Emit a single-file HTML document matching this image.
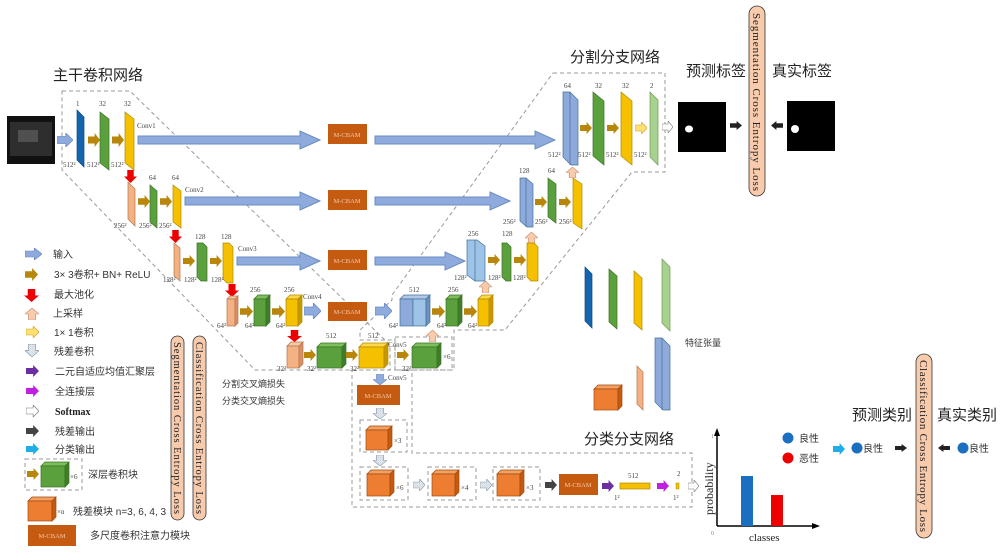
<!DOCTYPE html>
<html><head><meta charset="utf-8"><style>
html,body{margin:0;padding:0;background:#fff;width:1000px;height:553px;overflow:hidden}
svg text{font-family:"Liberation Serif","Noto Serif CJK SC","Noto Sans CJK SC",serif;fill:#222}
.s{font-size:7px;fill:#444}
.cn{font-family:"Liberation Sans","Noto Sans CJK SC",sans-serif;font-size:10px;fill:#333}
.h{font-family:"Liberation Sans","Noto Sans CJK SC",sans-serif;font-size:15px;fill:#222}
.d{fill:none;stroke:#999;stroke-width:1;stroke-dasharray:4,3}
</style></head><body>
<svg width="1000" height="553" viewBox="0 0 1000 553" xmlns="http://www.w3.org/2000/svg">
<defs>
<symbol id="aR" viewBox="0 0 20 20" preserveAspectRatio="none"><polygon points="0,5 11,5 11,0 20,10 11,20 11,15 0,15"/></symbol>
<symbol id="aD" viewBox="0 0 20 20" preserveAspectRatio="none"><polygon points="5,0 15,0 15,10 20,10 10,20 0,10 5,10"/></symbol>
<symbol id="aU" viewBox="0 0 20 20" preserveAspectRatio="none"><polygon points="10,0 20,10 15,10 15,20 5,20 5,10 0,10"/></symbol>
<pattern id="hat" width="3" height="3" patternUnits="userSpaceOnUse"><rect width="3" height="3" fill="#fff"/><path d="M0,3 L3,0" stroke="#9ab" stroke-width="0.8"/></pattern>
</defs>

<!-- dashed regions -->
<polygon class="d" points="62,91 130,91 390,345 390,370 255,370 62,170"/>
<polygon class="d" points="553,73 665,73 665,172 632,172 505,330 454,330 454,370 395,370 395,340 360,340 360,330 392,300 392,295 553,73"/>
<polygon class="d" points="352,370 412,370 412,453 692,453 692,507 352,507"/>
<rect class="d" x="395" y="337" width="57" height="33"/>

<!-- headings -->
<text class="h" x="53" y="80">主干卷积网络</text>
<text class="h" x="570" y="62">分割分支网络</text>
<text class="h" x="686" y="76">预测标签</text>
<text class="h" x="772" y="76">真实标签</text>
<text class="h" x="584" y="444">分类分支网络</text>
<text class="h" x="852" y="420">预测类别</text>
<text class="h" x="937" y="420">真实类别</text>

<!-- input image -->
<rect x="7" y="116" width="48" height="48" fill="#111"/>
<rect x="10" y="122" width="42" height="34" fill="#3a3a3a" opacity="0.7"/>
<rect x="18" y="130" width="20" height="12" fill="#666" opacity="0.6"/>

<!-- ===== Row1 encoder ===== -->
<use href="#aR" x="57" y="133" width="16" height="14" fill="#8faadc" stroke="#6a8cc6"/>
<polygon points="77,110 84,117 84,167 77,160" fill="#1464ae" stroke="#0d4a80" stroke-width="0.7"/>
<use href="#aR" x="88" y="133" width="12" height="14" fill="#b8860b"/>
<polygon points="100,112 109,119 109,170 100,163" fill="#5aa03c" stroke="#3d7028" stroke-width="0.7"/>
<use href="#aR" x="112" y="133" width="12" height="14" fill="#b8860b"/>
<polygon points="125,112 134,119 134,170 125,163" fill="#f5c000" stroke="#b08a00" stroke-width="0.7"/>
<text class="s" x="76" y="106">1</text><text class="s" x="99" y="106">32</text><text class="s" x="124" y="106">32</text>
<text class="s" x="63" y="167">512²</text><text class="s" x="87" y="167">512²</text><text class="s" x="111" y="167">512²</text>
<text class="s" x="137" y="128">Conv1</text>
<polygon points="138,136 300,136 300,131 320,140 300,149 300,144 138,144" fill="#8faadc" stroke="#6a8cc6"/>
<rect x="328" y="124" width="39" height="20" fill="#c55a11"/><text x="347" y="137" font-size="6.5" fill="#f0c0a0" text-anchor="middle" style="fill:#f3c9a8">M-CBAM</text>
<polygon points="375,136 535,136 535,131 555,140 535,149 535,144 375,144" fill="#8faadc" stroke="#6a8cc6"/>

<!-- Row2 -->
<use href="#aD" x="124" y="170" width="13" height="13" fill="#e00"/>
<polygon points="128,182 135,189 135,226 128,219" fill="#f4b183" stroke="#b07850" stroke-width="0.7"/>
<use href="#aR" x="138" y="195" width="12" height="13" fill="#b8860b"/>
<polygon points="150,185 157,191 157,228 150,222" fill="#5aa03c" stroke="#3d7028" stroke-width="0.7"/>
<use href="#aR" x="160" y="195" width="12" height="13" fill="#b8860b"/>
<polygon points="173,185 181,191 181,228 173,222" fill="#f5c000" stroke="#b08a00" stroke-width="0.7"/>
<text class="s" x="149" y="180">64</text><text class="s" x="172" y="180">64</text>
<text class="s" x="114" y="228">256²</text><text class="s" x="139" y="228">256²</text><text class="s" x="159" y="228">256²</text>
<text class="s" x="185" y="192">Conv2</text>
<polygon points="185,197 300,197 300,192 320,201 300,210 300,205 185,205" fill="#8faadc" stroke="#6a8cc6"/>
<rect x="328" y="190" width="39" height="20" fill="#c55a11"/><text x="347" y="203" font-size="6.5" text-anchor="middle" style="fill:#f3c9a8">M-CBAM</text>
<polygon points="375,197 490,197 490,192 510,201 490,210 490,205 375,205" fill="#8faadc" stroke="#6a8cc6"/>

<!-- Row3 -->
<use href="#aD" x="169" y="230" width="13" height="13" fill="#e00"/>
<polygon points="174,243 180,248 180,281 174,276" fill="#f4b183" stroke="#b07850" stroke-width="0.7"/>
<use href="#aR" x="183" y="255" width="12" height="12" fill="#b8860b"/>
<polygon points="197,243 203,243 207,247 207,281 201,281 197,277" fill="#5aa03c" stroke="#3d7028" stroke-width="0.7"/>
<use href="#aR" x="210" y="255" width="12" height="12" fill="#b8860b"/>
<polygon points="223,243 229,243 233,247 233,283 227,283 223,279" fill="#f5c000" stroke="#b08a00" stroke-width="0.7"/>
<text class="s" x="195" y="239">128</text><text class="s" x="221" y="239">128</text>
<text class="s" x="163" y="282">128²</text><text class="s" x="184" y="282">128²</text><text class="s" x="211" y="282">128²</text>
<text class="s" x="238" y="251">Conv3</text>
<polygon points="237,257 300,257 300,252 320,261 300,270 300,265 237,265" fill="#8faadc" stroke="#6a8cc6"/>
<rect x="328" y="250" width="39" height="20" fill="#c55a11"/><text x="347" y="263" font-size="6.5" text-anchor="middle" style="fill:#f3c9a8">M-CBAM</text>
<polygon points="375,257 445,257 445,252 465,261 445,270 445,265 375,265" fill="#8faadc" stroke="#6a8cc6"/>

<!-- Row4 -->
<use href="#aD" x="225" y="284" width="14" height="13" fill="#e00"/>
<g stroke-width="0.7">
<polygon points="227,299 230,296 238,296 235,299" fill="#f8c9a4" stroke="#b07850"/>
<rect x="227" y="299" width="8" height="27" fill="#f4b183" stroke="#b07850"/>
<polygon points="235,299 238,296 238,323 235,326" fill="#d99066" stroke="#b07850"/>
<polygon points="254,299 258,295 270,295 266,299" fill="#7cc05a" stroke="#3d7028"/>
<rect x="254" y="299" width="12" height="27" fill="#5aa03c" stroke="#3d7028"/>
<polygon points="266,299 270,295 270,322 266,326" fill="#3f7d2a" stroke="#3d7028"/>
<polygon points="286,299 290,295 302,295 298,299" fill="#ffd84a" stroke="#b08a00"/>
<rect x="286" y="299" width="12" height="27" fill="#f5c000" stroke="#b08a00"/>
<polygon points="298,299 302,295 302,322 298,326" fill="#c89800" stroke="#b08a00"/>
</g>
<use href="#aR" x="240" y="305" width="13" height="13" fill="#b8860b"/>
<use href="#aR" x="272" y="305" width="13" height="13" fill="#b8860b"/>
<text class="s" x="250" y="292">256</text><text class="s" x="284" y="292">256</text>
<text class="s" x="217" y="328">64²</text><text class="s" x="245" y="328">64²</text><text class="s" x="276" y="328">64²</text>
<text class="s" x="303" y="299">Conv4</text>
<use href="#aR" x="304" y="303" width="17" height="16" fill="#8faadc" stroke="#6a8cc6"/>
<rect x="328" y="302" width="39" height="19" fill="#c55a11"/><text x="347" y="314" font-size="6.5" text-anchor="middle" style="fill:#f3c9a8">M-CBAM</text>
<use href="#aR" x="375" y="303" width="17" height="16" fill="#8faadc" stroke="#6a8cc6"/>
<!-- decoder row4 -->
<g stroke-width="0.7">
<polygon points="400,299 404,295 430,295 426,299" fill="#b4c7e7" stroke="#41719c"/>
<rect x="400" y="299" width="13" height="27" fill="#8eaadb" stroke="#41719c"/>
<rect x="413" y="299" width="13" height="27" fill="#9dc3e6" stroke="#41719c"/>
<polygon points="426,299 430,295 430,322 426,326" fill="#6f8fc0" stroke="#41719c"/>
<polygon points="446,299 450,295 462,295 458,299" fill="#7cc05a" stroke="#3d7028"/>
<rect x="446" y="299" width="12" height="27" fill="#5aa03c" stroke="#3d7028"/>
<polygon points="458,299 462,295 462,322 458,326" fill="#3f7d2a" stroke="#3d7028"/>
<polygon points="478,299 482,295 493,295 489,299" fill="#ffd84a" stroke="#b08a00"/>
<rect x="478" y="299" width="11" height="27" fill="#f5c000" stroke="#b08a00"/>
<polygon points="489,299 493,295 493,322 489,326" fill="#c89800" stroke="#b08a00"/>
</g>
<use href="#aR" x="432" y="305" width="13" height="13" fill="#b8860b"/>
<use href="#aR" x="464" y="305" width="13" height="13" fill="#b8860b"/>
<text class="s" x="409" y="292">512</text><text class="s" x="448" y="292">256</text>
<text class="s" x="389" y="328">64²</text><text class="s" x="437" y="328">64²</text><text class="s" x="468" y="328">64²</text>

<!-- Row5 -->
<use href="#aD" x="287" y="330" width="15" height="12" fill="#e00"/>
<g stroke-width="0.7">
<polygon points="287,346 291,342 303,342 299,346" fill="#f8c9a4" stroke="#b07850"/>
<rect x="287" y="346" width="12" height="22" fill="#f4b183" stroke="#b07850"/>
<polygon points="299,346 303,342 303,364 299,368" fill="#d99066" stroke="#b07850"/>
<polygon points="317,347 321,343 346,343 342,347" fill="#7cc05a" stroke="#3d7028"/>
<rect x="317" y="347" width="25" height="21" fill="#5aa03c" stroke="#3d7028"/>
<polygon points="342,347 346,343 346,364 342,368" fill="#3f7d2a" stroke="#3d7028"/>
<polygon points="359,347 363,343 388,343 384,347" fill="#ffd84a" stroke="#b08a00"/>
<rect x="359" y="347" width="25" height="21" fill="#f5c000" stroke="#b08a00"/>
<polygon points="384,347 388,343 388,364 384,368" fill="#c89800" stroke="#b08a00"/>
<polygon points="412,347 416,343 441,343 437,347" fill="#7cc05a" stroke="#3d7028"/>
<rect x="412" y="347" width="25" height="21" fill="#5aa03c" stroke="#3d7028"/>
<polygon points="437,347 441,343 441,364 437,368" fill="#3f7d2a" stroke="#3d7028"/>
</g>
<use href="#aR" x="304" y="349" width="12" height="12" fill="#b8860b"/>
<use href="#aR" x="346" y="349" width="12" height="12" fill="#b8860b"/>
<use href="#aR" x="397" y="349" width="12" height="12" fill="#b8860b"/>
<text class="s" x="326" y="338">512</text><text class="s" x="368" y="338">512</text>
<text class="s" x="277" y="371">32²</text><text class="s" x="307" y="371">32²</text><text class="s" x="350" y="371">32²</text><text class="s" x="402" y="371">32²</text>
<text class="s" x="388" y="347">Conv5</text><text class="s" x="443" y="359">×6</text>

<!-- up arrows -->
<use href="#aU" x="426" y="330" width="13" height="12" fill="#f8cbad" stroke="#c99070" stroke-width="1"/>
<use href="#aU" x="479" y="281" width="13" height="12" fill="#f8cbad" stroke="#c99070" stroke-width="1"/>
<use href="#aU" x="525" y="232" width="13" height="12" fill="#f8cbad" stroke="#c99070" stroke-width="1"/>
<use href="#aU" x="566" y="167" width="13" height="11" fill="#f8cbad" stroke="#c99070" stroke-width="1"/>

<!-- decoder row3 -->
<polygon points="467,240 477,240 485,246 485,281 475,281 467,275" fill="#9dc3e6" stroke="#41719c" stroke-width="0.7"/>
<line x1="475" y1="240" x2="475" y2="281" stroke="#41719c" stroke-width="0.7"/>
<use href="#aR" x="488" y="254" width="12" height="12" fill="#b8860b"/>
<polygon points="502,243 507,243 511,247 511,281 506,281 502,277" fill="#5aa03c" stroke="#3d7028" stroke-width="0.7"/>
<use href="#aR" x="514" y="254" width="12" height="12" fill="#b8860b"/>
<polygon points="527,243 534,243 538,247 538,281 531,281 527,277" fill="#f5c000" stroke="#b08a00" stroke-width="0.7"/>
<text class="s" x="468" y="236">256</text><text class="s" x="502" y="236">128</text>
<text class="s" x="454" y="280">128²</text><text class="s" x="488" y="280">128²</text><text class="s" x="513" y="280">128²</text>

<!-- decoder row2 -->
<polygon points="520,178 526,178 533,184 533,227 527,227 520,221" fill="#8eaadb" stroke="#41719c" stroke-width="0.7"/>
<line x1="526" y1="178" x2="526" y2="227" stroke="#41719c" stroke-width="0.7"/>
<use href="#aR" x="535" y="196" width="12" height="12" fill="#b8860b"/>
<polygon points="548,178 556,184 556,223 548,217" fill="#5aa03c" stroke="#3d7028" stroke-width="0.7"/>
<use href="#aR" x="559" y="196" width="12" height="12" fill="#b8860b"/>
<polygon points="573,178 582,184 582,229 573,223" fill="#f5c000" stroke="#b08a00" stroke-width="0.7"/>
<text class="s" x="519" y="173">128</text><text class="s" x="548" y="173">64</text>
<text class="s" x="503" y="224">256²</text><text class="s" x="535" y="224">256²</text><text class="s" x="559" y="224">256²</text>

<!-- decoder row1 -->
<polygon points="563,92 570,92 578,100 578,165 571,165 563,157" fill="#8eaadb" stroke="#41719c" stroke-width="0.7"/>
<line x1="570" y1="92" x2="570" y2="165" stroke="#41719c" stroke-width="0.7"/>
<use href="#aR" x="580" y="122" width="12" height="12" fill="#b8860b"/>
<polygon points="593,92 604,101 604,165 593,156" fill="#5aa03c" stroke="#3d7028" stroke-width="0.7"/>
<use href="#aR" x="607" y="122" width="12" height="12" fill="#b8860b"/>
<polygon points="621,92 632,101 632,165 621,156" fill="#f5c000" stroke="#b08a00" stroke-width="0.7"/>
<use href="#aR" x="635" y="122" width="12" height="12" fill="#ffe070" stroke="#c8a030"/>
<polygon points="650,92 658,100 658,165 650,157" fill="#a9d18e" stroke="#6a9a50" stroke-width="0.7"/>
<use href="#aR" x="662" y="121" width="11" height="12" fill="#fff" stroke="#777"/>
<text class="s" x="564" y="88">64</text><text class="s" x="595" y="88">32</text><text class="s" x="622" y="88">32</text><text class="s" x="650" y="88">2</text>
<text class="s" x="548" y="157">512²</text><text class="s" x="578" y="157">512²</text><text class="s" x="606" y="157">512²</text><text class="s" x="634" y="157">512²</text>

<!-- seg labels -->
<rect x="678" y="102" width="48" height="50" fill="#000"/><ellipse cx="689" cy="129" rx="4" ry="3.5" fill="#fff"/>
<rect x="787" y="101" width="48" height="50" fill="#000"/><ellipse cx="795" cy="129" rx="4" ry="4" fill="#fff"/>
<use href="#aR" x="730" y="121" width="12" height="9" fill="#222"/>
<g transform="translate(783,121) scale(-1,1)"><use href="#aR" x="0" y="0" width="12" height="9" fill="#222"/></g>
<rect x="749" y="6" width="16" height="190" rx="8" fill="#f8cbad" stroke="#333" stroke-width="0.8"/>
<text x="753" y="13" font-size="11" transform="rotate(90 753 13)" textLength="178">Segmentation Cross Entropy Loss</text>

<!-- feature tensor legend -->
<polygon points="585,267 592,274 592,328 585,321" fill="#1464ae" stroke="#0d4a80" stroke-width="0.7"/>
<polygon points="609,269 617,276 617,329 609,322" fill="#5aa03c" stroke="#3d7028" stroke-width="0.7"/>
<polygon points="634,271 642,278 642,330 634,323" fill="#f5c000" stroke="#b08a00" stroke-width="0.7"/>
<polygon points="662,259 670,267 670,331 662,323" fill="#a9d18e" stroke="#6a9a50" stroke-width="0.7"/>
<text class="cn" x="685" y="346" style="font-size:9px">特征张量</text>
<polygon points="655,338 662,338 670,346 670,410 663,410 655,402" fill="#8eaadb" stroke="#41719c" stroke-width="0.7"/>
<line x1="662" y1="338" x2="662" y2="410" stroke="#41719c" stroke-width="0.7"/>
<polygon points="637,366 643,372 643,410 637,404" fill="#f4b183" stroke="#b07850" stroke-width="0.7"/>
<g stroke="#a04a10" stroke-width="0.7">
<polygon points="594,389 598,385 622,385 618,389" fill="#f4a060"/>
<rect x="594" y="389" width="24" height="21" fill="#ed7d31"/>
<polygon points="618,389 622,385 622,406 618,410" fill="#c55a11"/>
</g>

<!-- classification branch -->
<use href="#aD" x="373" y="374" width="14" height="11" fill="#8faadc" stroke="#6a8cc6"/>
<text class="s" x="388" y="380">Conv5</text>
<rect x="357" y="385" width="43" height="20" fill="#c55a11"/><text x="378" y="398" font-size="6.5" text-anchor="middle" style="fill:#f3c9a8">M-CBAM</text>
<use href="#aD" x="373" y="408" width="14" height="11" fill="url(#hat)" stroke="#8899aa"/>
<rect class="d" x="360" y="420" width="47" height="32"/>
<use href="#aD" x="373" y="455" width="14" height="11" fill="url(#hat)" stroke="#8899aa"/>
<rect class="d" x="360" y="467" width="48" height="33"/>
<rect class="d" x="428" y="467" width="48" height="33"/>
<rect class="d" x="493" y="467" width="47" height="33"/>
<g stroke="#a04a10" stroke-width="0.7">
<polygon points="366,430 370,426 392,426 388,430" fill="#f4a060"/><rect x="366" y="430" width="22" height="20" fill="#ed7d31"/><polygon points="388,430 392,426 392,446 388,450" fill="#c55a11"/>
<polygon points="367,474 371,470 394,470 390,474" fill="#f4a060"/><rect x="367" y="474" width="23" height="22" fill="#ed7d31"/><polygon points="390,474 394,470 394,492 390,496" fill="#c55a11"/>
<polygon points="432,474 436,470 459,470 455,474" fill="#f4a060"/><rect x="432" y="474" width="23" height="22" fill="#ed7d31"/><polygon points="455,474 459,470 459,492 455,496" fill="#c55a11"/>
<polygon points="497,474 501,470 524,470 520,474" fill="#f4a060"/><rect x="497" y="474" width="23" height="22" fill="#ed7d31"/><polygon points="520,474 524,470 524,492 520,496" fill="#c55a11"/>
</g>
<text class="s" x="394" y="443">×3</text><text class="s" x="396" y="490">×6</text><text class="s" x="461" y="490">×4</text><text class="s" x="526" y="490">×3</text>
<use href="#aR" x="413" y="479" width="12" height="12" fill="url(#hat)" stroke="#8899aa"/>
<use href="#aR" x="480" y="479" width="12" height="12" fill="url(#hat)" stroke="#8899aa"/>
<use href="#aR" x="545" y="479" width="12" height="12" fill="#444"/>
<rect x="559" y="474" width="39" height="21" fill="#c55a11"/><text x="578" y="487" font-size="6.5" text-anchor="middle" style="fill:#f3c9a8">M-CBAM</text>
<use href="#aR" x="602" y="480" width="12" height="12" fill="#6a2fa0"/>
<rect x="620" y="483" width="30" height="6" fill="#f5c000" stroke="#b08a00" stroke-width="0.7"/>
<text class="s" x="628" y="478">512</text><text class="s" x="614" y="500">1²</text>
<use href="#aR" x="657" y="480" width="12" height="12" fill="#c020e0"/>
<rect x="676" y="483" width="3" height="6" fill="#f5c000" stroke="#b08a00" stroke-width="0.5"/>
<text class="s" x="677" y="476">2</text><text class="s" x="673" y="500">1²</text>
<use href="#aR" x="688" y="480" width="11" height="12" fill="#fff" stroke="#777"/>

<!-- chart -->
<line x1="717" y1="526" x2="717" y2="432" stroke="#000" stroke-width="1.5"/>
<polygon points="717,428 714,436 720,436" fill="#000"/>
<line x1="717" y1="526" x2="815" y2="526" stroke="#000" stroke-width="1.5"/>
<polygon points="820,526 812,523 812,529" fill="#000"/>
<rect x="741" y="476" width="12" height="50" fill="#1a6fc0"/>
<rect x="771" y="495" width="12" height="31" fill="#e00"/>
<text x="711" y="438" font-size="6" style="fill:#888">1</text><text x="711" y="535" font-size="6" style="fill:#888">0</text>
<text x="713" y="515" font-size="12" transform="rotate(-90 713 515)">probability</text>
<text x="749" y="541" font-size="11">classes</text>

<circle cx="788" cy="438" r="5.5" fill="#1a6fc0"/><text class="cn" x="799" y="442">良性</text>
<circle cx="788" cy="458" r="5.5" fill="#e00"/><text class="cn" x="799" y="462">恶性</text>
<use href="#aR" x="833" y="443" width="12" height="12" fill="#20aee8"/>
<circle cx="857" cy="448" r="5.5" fill="#1a6fc0"/><text class="cn" x="863" y="452">良性</text>
<use href="#aR" x="895" y="444" width="12" height="8" fill="#222"/>
<g transform="translate(950,444) scale(-1,1)"><use href="#aR" x="0" y="0" width="12" height="8" fill="#222"/></g>
<circle cx="963" cy="448" r="5.5" fill="#1a6fc0"/><text class="cn" x="969" y="452">良性</text>
<rect x="916" y="354" width="16" height="184" rx="8" fill="#f8cbad" stroke="#333" stroke-width="0.8"/>
<text x="920" y="360" font-size="11" transform="rotate(90 920 360)" textLength="172">Classification Cross Entropy Loss</text>

<!-- legend -->
<use href="#aR" x="25" y="248" width="17" height="12" fill="#8faadc" stroke="#6a8cc6"/><text class="cn" x="53" y="258">输入</text>
<use href="#aR" x="25" y="268" width="13" height="13" fill="#b8860b"/><text class="cn" x="54" y="278">3× 3卷积+ BN+ ReLU</text>
<use href="#aD" x="24" y="289" width="15" height="13" fill="#e00"/><text class="cn" x="54" y="298">最大池化</text>
<use href="#aU" x="25" y="308" width="14" height="12" fill="#f8cbad" stroke="#c99070"/><text class="cn" x="53" y="317">上采样</text>
<use href="#aR" x="26" y="326" width="13" height="12" fill="#ffe070" stroke="#c8a030"/><text class="cn" x="54" y="336">1× 1卷积</text>
<use href="#aD" x="25" y="344" width="14" height="13" fill="url(#hat)" stroke="#8899aa"/><text class="cn" x="54" y="355">残差卷积</text>
<use href="#aR" x="26" y="365" width="13" height="12" fill="#6a2fa0"/><text class="cn" x="55" y="375">二元自适应均值汇聚层</text>
<use href="#aR" x="26" y="385" width="13" height="12" fill="#c020e0"/><text class="cn" x="55" y="395">全连接层</text>
<use href="#aR" x="26" y="405" width="13" height="12" fill="#fff" stroke="#777"/><text x="55" y="415" font-size="10" font-weight="bold">Softmax</text>
<use href="#aR" x="26" y="425" width="13" height="12" fill="#444"/><text class="cn" x="55" y="435">残差输出</text>
<use href="#aR" x="26" y="443" width="13" height="12" fill="#20aee8"/><text class="cn" x="55" y="453">分类输出</text>
<rect class="d" x="25" y="459" width="57" height="31"/>
<use href="#aR" x="27" y="468" width="12" height="12" fill="#b8860b"/>
<g stroke="#3d7028" stroke-width="0.7"><polygon points="41,466 45,462 69,462 65,466" fill="#7cc05a"/><rect x="41" y="466" width="24" height="21" fill="#5aa03c"/><polygon points="65,466 69,462 69,483 65,487" fill="#3f7d2a"/></g>
<text class="s" x="70" y="479">×6</text><text class="cn" x="88" y="478">深层卷积块</text>
<g stroke="#a04a10" stroke-width="0.7"><polygon points="28,501 32,497 56,497 52,501" fill="#f4a060"/><rect x="28" y="501" width="24" height="20" fill="#ed7d31"/><polygon points="52,501 56,497 56,517 52,521" fill="#c55a11"/></g>
<text class="s" x="57" y="514">×n</text><text class="cn" x="73" y="515">残差模块 n=3, 6, 4, 3</text>
<rect x="28" y="525" width="48" height="21" fill="#c55a11"/><text x="52" y="538" font-size="6.5" text-anchor="middle" style="fill:#f3c9a8">M-CBAM</text>
<text class="cn" x="90" y="539">多尺度卷积注意力模块</text>

<rect x="171" y="336" width="13" height="184" rx="6.5" fill="#f8cbad" stroke="#333" stroke-width="0.8"/>
<text x="174" y="342" font-size="10.5" transform="rotate(90 174 342)" textLength="172">Segmentation Cross Entropy Loss</text>
<rect x="193" y="336" width="13" height="184" rx="6.5" fill="#f8cbad" stroke="#333" stroke-width="0.8"/>
<text x="196" y="342" font-size="10.5" transform="rotate(90 196 342)" textLength="172">Classification Cross Entropy Loss</text>
<text class="cn" x="222" y="387" style="font-size:9px">分割交叉熵损失</text>
<text class="cn" x="222" y="404" style="font-size:9px">分类交叉熵损失</text>
</svg>
</body></html>
